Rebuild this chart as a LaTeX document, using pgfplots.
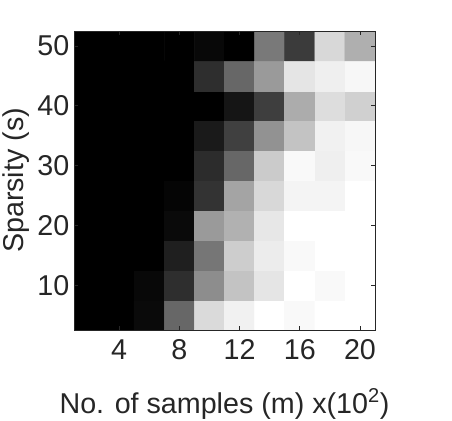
\documentclass[border=0pt]{standalone}
\usepackage{pgfplots}
\pgfplotsset{compat=1.18}
\usepackage{fontspec}
\setmainfont{Liberation Sans}
\definecolor{axgray}{RGB}{38,38,38}
\begin{document}
\begin{tikzpicture}
\useasboundingbox (0,0) rectangle (339pt,315pt);
\begin{axis}[
  at={(55.5pt,67.5pt)}, anchor=south west,
  scale only axis,
  width=225.75pt, height=224.25pt,
  xmin=1, xmax=21, ymin=2.5, ymax=52.5,
  enlargelimits=false,
  axis on top,
  colormap={bw}{gray(0cm)=(0); gray(1cm)=(1)},
  point meta min=0, point meta max=1,
  xtick={4,8,12,16,20},
  ytick={10,20,30,40,50},
  tick pos=both,
  tick align=inside,
  major tick length=3pt,
  axis line style={axgray, line width=0.5pt},
  every tick/.style={axgray, line width=0.5pt},
  /pgf/number format/assume math mode=true,
  tick label style={font=\fontsize{21.5}{25}\selectfont, text=axgray},
  xticklabel style={yshift=-3.5pt},
  label style={font=\fontsize{21.5}{25}\selectfont, text=axgray},
  xlabel={No. of samples (m) x(10\textsuperscript{2})},
  ylabel={Sparsity (s)},
  xlabel style={at={(axis description cs:0.5,-0.2776)}, anchor=base},
  ylabel style={at={(axis description cs:-0.1694,0.5)}, anchor=base},
]
\addplot[matrix plot*, mesh/cols=10, point meta=explicit] table[meta=c] {
x y c
2 5 0
4 5 0
6 5 0.04
8 5 0.40
10 5 0.85
12 5 0.94
14 5 1.00
16 5 0.97
18 5 1.00
20 5 1.00
2 10 0
4 10 0
6 10 0.03
8 10 0.18
10 10 0.55
12 10 0.76
14 10 0.89
16 10 1.00
18 10 0.97
20 10 1.00
2 15 0
4 15 0
6 15 0
8 15 0.12
10 15 0.46
12 15 0.80
14 15 0.92
16 15 0.97
18 15 1.00
20 15 1.00
2 20 0
4 20 0
6 20 0
8 20 0.04
10 20 0.60
12 20 0.69
14 20 0.90
16 20 1.00
18 20 1.00
20 20 1.00
2 25 0
4 25 0
6 25 0
8 25 0.02
10 25 0.20
12 25 0.64
14 25 0.84
16 25 0.95
18 25 0.95
20 25 1.00
2 30 0
4 30 0
6 30 0
8 30 0
10 30 0.17
12 30 0.40
14 30 0.79
16 30 0.97
18 30 0.93
20 30 0.97
2 35 0
4 35 0
6 35 0
8 35 0
10 35 0.10
12 35 0.25
14 35 0.57
16 35 0.76
18 35 0.94
20 35 0.96
2 40 0
4 40 0
6 40 0
8 40 0
10 40 0
12 40 0.08
14 40 0.24
16 40 0.67
18 40 0.86
20 40 0.81
2 45 0
4 45 0
6 45 0
8 45 0
10 45 0.18
12 45 0.40
14 45 0.60
16 45 0.89
18 45 0.93
20 45 0.96
2 50 0
4 50 0
6 50 0
8 50 0
10 50 0.03
12 50 0
14 50 0.47
16 50 0.23
18 50 0.84
20 50 0.68
};
\end{axis}
\end{tikzpicture}
\end{document}
